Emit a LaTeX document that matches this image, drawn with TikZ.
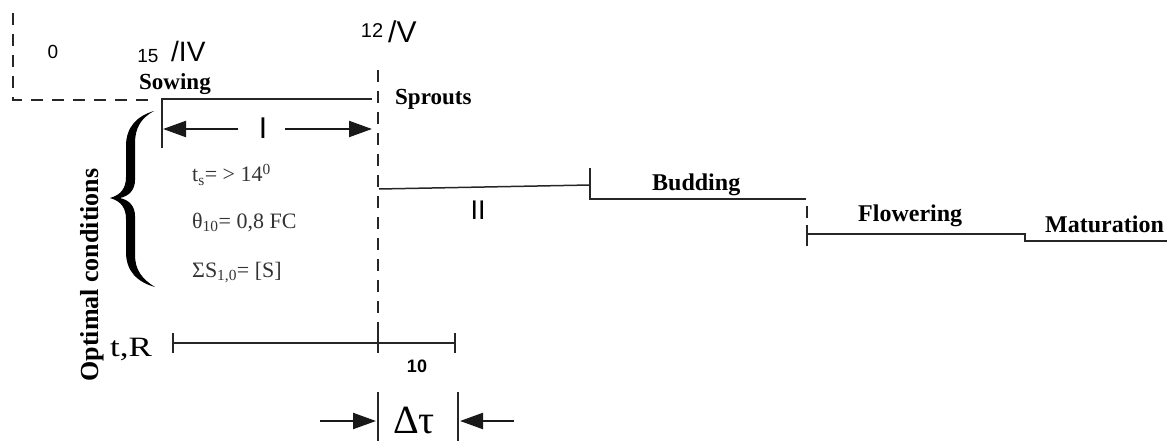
\documentclass[tikz,border=0pt]{standalone}
\usepackage{fontspec}
\setmainfont{Liberation Serif}
\newfontfamily\arialf{Liberation Sans}
\usetikzlibrary{arrows.meta}
\begin{document}
\begin{tikzpicture}[x=1pt,y=-1pt,
  ln/.style={line width=1.5pt, black!85},
  dsh/.style={line width=1.5pt, black!85, dash pattern=on 12pt off 9pt},
  arr/.style={line width=2.2pt, black!90, -{Triangle[length=23pt,width=16pt]}},
  stage/.style={font=\fontsize{24}{24}\selectfont\bfseries, inner sep=0pt, anchor=base west},
  cond/.style={font=\fontsize{22}{22}\selectfont, inner sep=0pt, anchor=base west, black!80},
  sfs/.style={font=\arialf\fontsize{19}{19}\selectfont, inner sep=0pt},
  sfl/.style={font=\arialf\fontsize{30}{30}\selectfont, inner sep=0pt}
]
\useasboundingbox (0,0) rectangle (1167,441);

% left dashed corner
\coordinate (dTop) at (13,13);
\coordinate (dCorner) at (13,100);
\coordinate (dEnd) at (155,100);
\draw[dsh] (dTop) -- (dCorner) -- (dEnd);

% sowing period
\coordinate (sowB) at (162,148);
\coordinate (sowT) at (162,99);
\coordinate (sprT) at (372,99);
\draw[ln] (sowB) -- (sowT) -- (sprT);

% main dashed vertical
\coordinate (vTop) at (378,70);
\coordinate (vBot) at (378,343);
\draw[dsh] (vTop) -- (vBot);

% stage II line
\coordinate (IIa) at (379,189);
\coordinate (IIb) at (590,185);
\coordinate (IIc) at (590,168);
\coordinate (IId) at (590,199);
\coordinate (IIe) at (806,199);
\draw[ln] (IIa) -- (IIb);
\draw[ln] (IIc) -- (IId) -- (IIe);

% budding -> flowering
\coordinate (Bd1) at (807,206);
\coordinate (Bd2) at (807,218);
\coordinate (Fa) at (807,225);
\coordinate (Fb) at (807,246);
\coordinate (Fl) at (807,234);
\coordinate (Fr) at (1025,234);
\coordinate (Md) at (1025,241);
\coordinate (Me) at (1167,241);
\draw[ln] (Bd1) -- (Bd2);
\draw[ln] (Fa) -- (Fb);
\draw[ln] (Fl) -- (Fr) -- (Md) -- (Me);

% arrow I
\node[sfl] (lblI) at (263,128) {I};
\coordinate (Ileft) at (163,129);
\coordinate (Iright) at (372,129);
\coordinate (Ia) at (238,129);
\coordinate (Ib) at (285,129);
\draw[arr] (Ia) -- (Ileft);
\draw[arr] (Ib) -- (Iright);

% brace
\fill[black] (154,111) .. controls (137,116) and (126,127) .. (126,146) -- (126,177)
  .. controls (126,188) and (121,195) .. (110,198)
  .. controls (121,201) and (126,208) .. (126,219) -- (126,252)
  .. controls (126,271) and (137,282) .. (155,287)
  .. controls (142,279) and (135,270) .. (135,255) -- (135,216)
  .. controls (135,206) and (129,200) .. (120,198)
  .. controls (129,196) and (135,190) .. (135,180) -- (135,143)
  .. controls (135,128) and (141,118) .. (154,111) -- cycle;

% conditions
\node[cond] (ts) at (192,182) {t\textsubscript{s}= > 14\textsuperscript{0}};
\node[cond] (th) at (192,228) {θ\textsubscript{10}= 0,8 FC};
\node[cond] (sg) at (192,277) {ΣS\textsubscript{1,0}= [S]};
\node[font=\fontsize{26}{26}\selectfont\bfseries, inner sep=0pt, rotate=90] (opt) at (92,275) {Optimal conditions};

% labels top
\node[sfs] (n0) at (53,52) {0};
\node[sfs] (n15) at (148,56) {15};
\node[font=\arialf\fontsize{28}{28}\selectfont, inner sep=0pt, anchor=west] (nIV) at (171,51) {/IV};
\node[font=\arialf\fontsize{20}{20}\selectfont, inner sep=0pt] (n12) at (372,31) {12};
\node[font=\arialf\fontsize{30}{30}\selectfont, inner sep=0pt, anchor=west] (nV) at (388,32) {/V};

\node[font=\fontsize{23}{23}\selectfont\bfseries, inner sep=0pt, anchor=base west] (sow) at (139,90) {Sowing};
\node[font=\fontsize{23}{23}\selectfont\bfseries, inner sep=0pt, anchor=base west] (spr) at (395,105) {Sprouts};
\node[stage] (bud) at (652,190) {Budding};
\node[stage] (flo) at (858,221) {Flowering};
\node[stage] (mat) at (1045,232) {Maturation};
\node[font=\arialf\fontsize{27}{27}\selectfont, inner sep=0pt] (lblII) at (478,210) {II};

% t,R scale
\node[font=\fontsize{28}{28}\selectfont, inner sep=0pt, anchor=base west] (tR) at (110,356) {\scalebox{1.25}[1]{t,R}};
\coordinate (s0) at (173,343);
\coordinate (s1) at (378,343);
\coordinate (s2) at (455,343);
\draw[ln] (s0) -- (s2);
\draw[ln] (173,333) -- (173,353);
\draw[ln] (378,333) -- (378,353);
\draw[ln] (455,333) -- (455,353);
\node[font=\arialf\fontsize{18}{18}\selectfont\bfseries, inner sep=0pt] (ten) at (417,366) {10};

% delta tau
\coordinate (dl1) at (378,392);
\coordinate (dl2) at (378,441);
\coordinate (dr1) at (458,392);
\coordinate (dr2) at (458,441);
\draw[ln] (dl1) -- (dl2);
\draw[ln] (dr1) -- (dr2);
\node[font=\fontsize{40}{40}\selectfont, inner sep=0pt, anchor=base west] (dtau) at (393,433) {Δτ};
\coordinate (al) at (320,421);
\coordinate (alt) at (376,421);
\coordinate (ar) at (514,421);
\coordinate (art) at (460,421);
\draw[arr] (al) -- (alt);
\draw[arr] (ar) -- (art);
\end{tikzpicture}
\end{document}
